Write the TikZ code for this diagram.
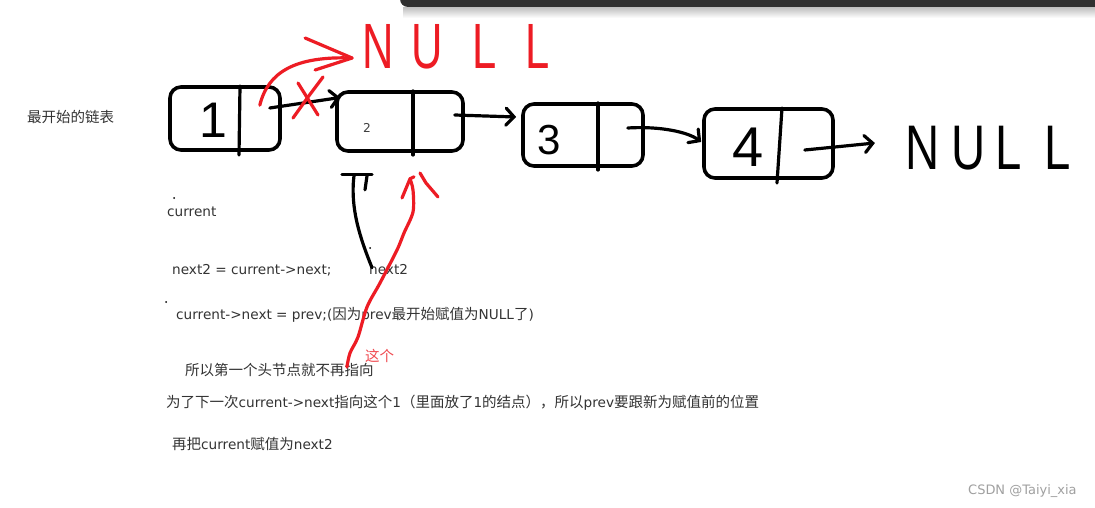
\documentclass[tikz,border=0pt]{standalone}
\usepackage{fontspec}
\setmainfont{Noto Sans CJK SC}
\newfontfamily\hand{Liberation Sans}
\newfontfamily\lat[Scale=0.94]{DejaVu Sans}
\usetikzlibrary{arrows.meta,calc}
\definecolor{pen}{HTML}{000000}
\definecolor{redpen}{HTML}{ED1C24}
\definecolor{lblred}{HTML}{F04A50}
\definecolor{txt}{HTML}{333333}
\definecolor{wm}{HTML}{A0A0A0}
\definecolor{bar}{HTML}{303030}
\tikzset{
  box/.style={draw=pen, line width=3.6pt, rounded corners=11pt, inner sep=0pt},
  stroke/.style={draw=pen, line width=3.2pt, line cap=round, line join=round},
  rstroke/.style={draw=redpen, line width=3.2pt, line cap=round, line join=round},
  harrow/.style={-{Straight Barb[length=8pt,width=17pt,line cap=round]}},
  lbl/.style={font=\fontsize{14.5}{16}\selectfont, text=txt, anchor=west, inner sep=0pt},
  digit/.style={font=\hand, inner sep=0pt, text=pen},
}
\begin{document}
\begin{tikzpicture}[x=1pt,y=-1pt]
\useasboundingbox (0,0) rectangle (1095,508);
\clip (0,0) rectangle (1095,508);
\fill[white] (0,0) rectangle (1095,508);
% top bar with shadow
\foreach \i in {1,...,11} \fill[black,opacity=0.022] (403,7) rectangle (1100,{7+\i});
\fill[bar,rounded corners=8pt] (400,-12) -- (400,7) -- (1110,7) -- (1110,-12) -- cycle;

% boxes
\node[box, minimum width=110pt, minimum height=63pt] (n1) at (225,118.5) {};
\node[box, minimum width=126pt, minimum height=59pt] (n2) at (400,121.5) {};
\node[box, minimum width=120pt, minimum height=62pt] (n3) at (583,135) {};
\node[box, minimum width=129pt, minimum height=69pt] (n4) at (768.5,143.5) {};
% dividers
\draw[stroke] (240,86) -- (239,155);
\draw[stroke] (413,91) -- (413,155);
\draw[stroke] (598,103) -- (598,170);
\draw[stroke] (782,108) -- (777,183);
% contents
\node[digit, font=\hand\fontsize{50}{50}\selectfont] (d1) at (213,120) {1};
\node[inner sep=0pt, text=black!75, font=\lat\fontsize{13}{15}\selectfont] (d2) at (367,128) {2};
\node[digit, font=\hand\fontsize{42}{42}\selectfont] (d3) at (549,140) {3};
\node[digit, font=\hand\fontsize{56}{56}\selectfont] (d4) at (748,147) {4};

% NULL labels
\node[inner sep=0pt, text=pen, font=\hand\fontsize{63}{63}\selectfont] (nullB) at (988,148)
  {\scalebox{0.75}[1]{N\hspace{17pt}U\hspace{12pt}L\hspace{31pt}L}};
\node[inner sep=0pt, text=redpen, font=\hand\fontsize{64}{64}\selectfont] (nullR) at (456,47)
  {\scalebox{0.68}[1]{N\hspace{26pt}U\hspace{44pt}L\hspace{42pt}L}};

% black connectors
\draw[stroke,harrow] ($(n1.east)+(-12,-10.5)$) -- ($(n2.west)+(5,-24)$);
\draw[stroke,harrow] ($(n2.east)+(-10,-6.5)$) -- ($(n3.west)+(-5,-18)$);
\draw[stroke,harrow] ($(n3.east)+(-17,-7)$) .. controls (660,126) and (688,132) .. ($(n4.west)+(-1,-1.5)$);
\draw[stroke,harrow] ($(n4.east)+(-30,6.5)$) -- ($(nullB.west)+(-30,-5)$);

% red arc to red NULL
\coordinate (rt) at ($(nullR.west)+(-10,11)$);
\draw[rstroke] ($(n1.north east)+(-22,20)$) .. controls (268,72) and (295,56) .. (rt);
\draw[rstroke] (rt) ++(-47,-20) -- (rt) -- ++(-37,12);
% red cross over the first link
\draw[rstroke] (323,77) -- (308,97) -- (293,118);
\draw[rstroke] (298,83) -- (308,99) -- (318,115);

% texts
\node[lbl] (t0) at (27,117) {最开始的链表};
\node[lbl] (tcur) at (167,212) {\lat current};
\node[lbl] (tn2) at (172,270) {\lat next2 = current->next;};
\node[lbl] (tnx) at (369,270) {\lat next2};
\node[lbl] (tcn) at (176,315) {{\lat current->next = prev;(}因为{\lat prev}最开始赋值为{\lat NULL}了{\lat )}};
\node[lbl, text=lblred] (tzg) at (365,356) {这个};
\node[lbl] (tso) at (185,370) {所以第一个头节点就不再指向};
\node[lbl] (twei) at (166,403) {为了下一次{\lat current->next}指向这个{\lat 1}（里面放了{\lat 1}的结点），所以{\lat prev}要跟新为赋值前的位置};
\node[lbl] (tzai) at (172,444) {再把{\lat current}赋值为{\lat next2}};
\node[lbl, text=wm, font=\lat\fontsize{13.8}{15}\selectfont] (wmk) at (968,491) {CSDN @Taiyi\_xia};

% black hand arrow from next2 up to node 2
\coordinate (bt) at ($(n2.south)+(-46,23)$);
\draw[stroke] ($(tnx.north west)+(3,3)$) .. controls (360,238) and (350,208) .. (bt);
\draw[stroke] (bt) ++(-12,-1) -- ++(30,0);
\draw[stroke] (bt) ++(13,0) -- ++(-2,14);

% red hand arrow from the text up to node 2
\coordinate (rs) at ($(tso.east)+(-27,-3)$);
\coordinate (rh) at ($(n2.south)+(10,26)$);
\draw[rstroke] plot[smooth] coordinates {(rs) (350,353) (358,337) (367,307) (380,283) (397,250) (404,233) (413,212) (413,190) (rh)};
\draw[rstroke] (402,198) -- (rh) -- ++(4,-2);
\draw[rstroke] (420,173) -- (426,183) -- (438,197);

% stray dots
\fill[black] (174,198) circle (1pt);
\fill[black] (370,248) circle (1pt);
\fill[black] (166,302) circle (1pt);
\end{tikzpicture}
\end{document}
